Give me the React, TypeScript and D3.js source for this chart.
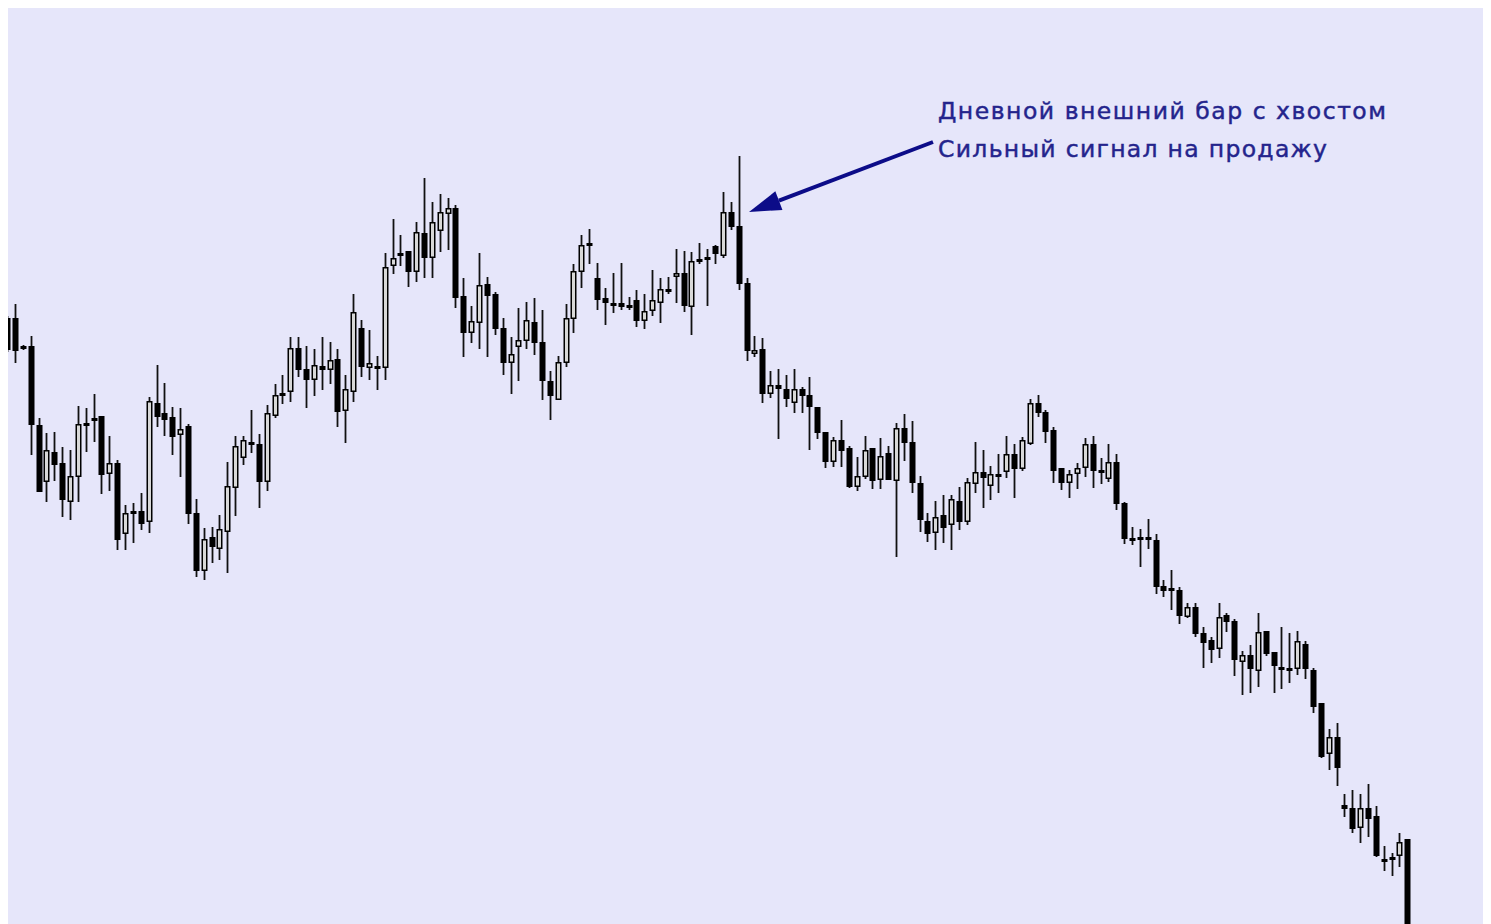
import { scaleLinear } from 'd3'

// daily OHLC, in price points
const opens = [
  682, 682, 654, 654, 575, 518, 548, 537, 498, 523,
  577, 582, 584, 526, 537, 466, 489, 489, 478, 597,
  587, 583, 565, 574, 487, 429, 463, 451, 468, 512,
  542, 558, 556, 518, 584, 607, 608, 652, 631, 620,
  634, 630, 641, 589, 608, 672, 632, 634, 632, 734,
  747, 749, 728, 767, 742, 769, 786, 792, 704, 667,
  677, 716, 706, 672, 637, 653, 659, 678, 658, 619,
  600, 637, 681, 728, 757, 722, 702, 697, 697, 695,
  700, 679, 689, 697, 711, 723, 727, 693, 741, 743,
  754, 744, 788, 774, 717, 646, 651, 606, 615, 611,
  597, 611, 605, 593, 568, 538, 560, 552, 513, 523,
  552, 520, 547, 519, 572, 558, 517, 479, 467, 485,
  475, 499, 478, 516, 528, 514, 526, 528, 546, 531,
  556, 597, 588, 570, 532, 517, 526, 532, 556, 530,
  521, 538, 497, 462, 463, 463, 460, 414, 412, 410,
  383, 393, 367, 360, 351, 385, 379, 338, 345, 329,
  369, 348, 333, 332, 331, 356, 330, 297, 246, 263,
  195, 192, 172, 192, 184, 141, 143, 144, 161,
]
const highs = [
  684, 696, 655, 664, 582, 567, 568, 553, 550, 594,
  592, 606, 584, 564, 540, 495, 497, 507, 603, 635,
  617, 593, 592, 576, 501, 472, 473, 485, 538, 564,
  564, 590, 566, 595, 616, 625, 663, 663, 654, 651,
  663, 658, 651, 625, 706, 680, 670, 644, 747, 781,
  765, 749, 778, 822, 798, 806, 802, 795, 722, 694,
  747, 723, 708, 682, 663, 692, 698, 702, 690, 629,
  644, 696, 736, 765, 771, 737, 712, 727, 737, 703,
  710, 706, 730, 722, 723, 751, 749, 748, 757, 751,
  755, 808, 798, 844, 722, 664, 662, 629, 631, 625,
  631, 613, 623, 593, 568, 563, 580, 554, 543, 564,
  552, 562, 554, 577, 586, 579, 524, 487, 499, 505,
  505, 513, 522, 558, 550, 534, 546, 564, 556, 563,
  601, 605, 590, 573, 532, 530, 537, 562, 564, 542,
  556, 546, 498, 473, 471, 481, 466, 420, 430, 413,
  397, 397, 373, 363, 397, 387, 381, 349, 355, 387,
  369, 348, 373, 367, 369, 359, 332, 297, 271, 277,
  206, 210, 206, 216, 194, 154, 147, 167, 161,
]
const lows = [
  648, 637, 650, 545, 508, 498, 519, 483, 480, 498,
  548, 558, 506, 509, 450, 450, 457, 470, 467, 573,
  564, 545, 523, 476, 423, 420, 437, 440, 427, 484,
  535, 547, 492, 509, 582, 596, 598, 623, 592, 604,
  610, 616, 573, 557, 598, 623, 620, 610, 620, 726,
  734, 713, 718, 722, 722, 748, 750, 692, 643, 657,
  651, 643, 665, 625, 606, 619, 651, 645, 600, 580,
  600, 633, 667, 712, 736, 690, 675, 687, 690, 690,
  673, 671, 684, 677, 706, 697, 688, 665, 736, 694,
  736, 742, 770, 710, 639, 643, 597, 602, 561, 593,
  587, 587, 550, 561, 532, 533, 533, 512, 509, 521,
  511, 511, 520, 443, 539, 507, 468, 458, 450, 457,
  450, 470, 475, 507, 492, 500, 507, 522, 502, 529,
  555, 583, 557, 517, 510, 502, 511, 523, 512, 516,
  518, 490, 456, 455, 433, 451, 406, 403, 390, 376,
  382, 363, 332, 337, 342, 368, 324, 305, 307, 313,
  344, 307, 311, 317, 325, 321, 287, 242, 230, 214,
  183, 167, 157, 163, 143, 129, 124, 133, 40,
]
const closes = [
  650, 649, 651, 575, 508, 550, 535, 500, 524, 576,
  575, 579, 525, 537, 460, 487, 486, 476, 599, 583,
  580, 563, 571, 486, 429, 461, 453, 471, 514, 554,
  560, 555, 518, 587, 605, 604, 652, 630, 620, 635,
  630, 640, 588, 611, 688, 633, 637, 632, 733, 742,
  745, 728, 768, 742, 778, 788, 792, 702, 667, 679,
  715, 704, 671, 637, 646, 660, 680, 657, 619, 604,
  638, 682, 729, 755, 754, 700, 697, 695, 693, 694,
  679, 689, 700, 711, 708, 727, 694, 739, 739, 742,
  746, 788, 773, 716, 649, 650, 606, 615, 611, 601,
  611, 604, 593, 567, 538, 560, 549, 513, 524, 550,
  519, 544, 520, 572, 557, 517, 480, 466, 483, 472,
  501, 478, 518, 528, 522, 526, 523, 546, 531, 560,
  597, 587, 568, 529, 517, 526, 532, 556, 529, 528,
  538, 496, 461, 460, 462, 461, 413, 409, 410, 384,
  393, 366, 357, 350, 383, 378, 340, 345, 331, 368,
  346, 334, 331, 330, 359, 331, 293, 243, 263, 232,
  191, 171, 192, 181, 144, 138, 141, 158, 40,
]

const noteLines = ['Дневной внешний бар с хвостом', 'Сильный сигнал на продажу']
const signalBar = 93

const width = 1475
const height = 916

const x = scaleLinear()
  .domain([0, opens.length - 1])
  .range([-0.9, 1399.3])
const y = scaleLinear().domain([76, 992]).range([height, 0])

export default function App() {
  const candles = opens.map((o, i) => ({
    o,
    h: highs[i],
    l: lows[i],
    c: closes[i],
    cx: Math.round(x(i)) + 0.5,
  }))

  // arrow tip sits just right of the outside bar, below its high
  const tipX = Math.round(x(signalBar)) + 10
  const tipY = y(opens[signalBar]) - 14
  const tailX = tipX + 184
  const tailY = tipY - 70
  const ang = Math.atan2(tailY - tipY, tailX - tipX)
  const headLen = 32
  const headW = 10
  const bx = tipX + Math.cos(ang) * headLen
  const by = tipY + Math.sin(ang) * headLen
  const px = -Math.sin(ang) * headW
  const py = Math.cos(ang) * headW

  return (
    <svg
      width={width}
      height={height}
      style={{ position: 'fixed', left: 8, top: 8, display: 'block' }}
    >
      <rect width={width} height={height} fill="#e6e6fa" />
      <g>
        {candles.map((d, i) => {
          const up = d.c >= d.o
          const top = y(Math.max(d.o, d.c))
          const bot = y(Math.min(d.o, d.c))
          return (
            <g key={i}>
              <line
                x1={d.cx}
                x2={d.cx}
                y1={y(d.h)}
                y2={y(d.l)}
                stroke="#111"
                strokeWidth={1.8}
              />
              {up ? (
                <rect
                  x={d.cx - 2.25}
                  y={top + 0.75}
                  width={4.5}
                  height={Math.max(bot - top - 1.5, 1)}
                  fill="#d8d8d8"
                  stroke="#000"
                  strokeWidth={1.5}
                />
              ) : (
                <rect
                  x={d.cx - 3}
                  y={top}
                  width={6}
                  height={Math.max(bot - top, 3)}
                  fill="#000"
                />
              )}
            </g>
          )
        })}
      </g>
      <line
        x1={tailX}
        y1={tailY}
        x2={bx}
        y2={by}
        stroke="#0c0c88"
        strokeWidth={4}
      />
      <polygon
        points={`${tipX},${tipY} ${bx + px},${by + py} ${bx - px},${by - py}`}
        fill="#0c0c88"
      />
      {noteLines.map((t, i) => (
        <text
          key={t}
          x={930}
          y={111 + i * 38}
          fontFamily="DejaVu Sans, Verdana, sans-serif"
          fontSize={23.5}
          fill="#24248c"
          stroke="#24248c"
          strokeWidth={0.45}
          textLength={i === 0 ? 448 : 389}
          lengthAdjust="spacing"
        >
          {t}
        </text>
      ))}
    </svg>
  )
}
